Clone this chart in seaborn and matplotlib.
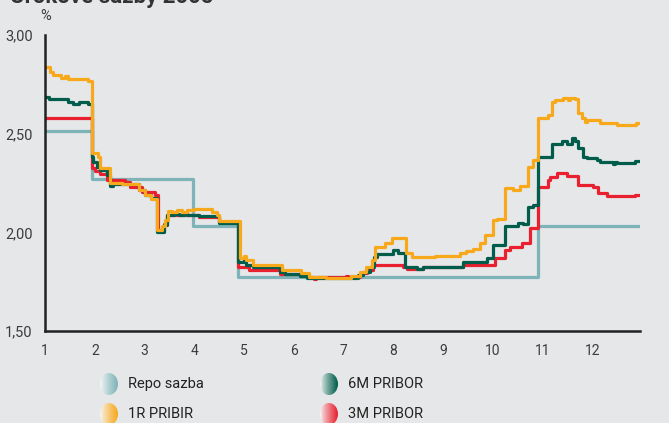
# ============================================================
# Úrokové sazby 2005 – repo sazba a PRIBOR
# ============================================================
import numpy as np
import matplotlib
matplotlib.use("Agg")
import matplotlib.pyplot as plt
from matplotlib.patches import Ellipse
import seaborn as sns

# ------------------------------------------------------------
# DATA (mesic 1..13, hodnoty v %)
# ------------------------------------------------------------
repo_x = [1.00, 1.94, 3.98, 4.88, 10.91, 12.95]
repo_y = [2.515, 2.268, 2.032, 1.775, 2.032, 2.032]

pribor3m_x = [1.00, 1.94, 2.00, 2.10, 2.24, 2.60, 2.71, 2.95, 3.20, 3.26, 3.38, 3.45,
              3.70, 4.10, 4.50, 4.88, 5.10, 5.72, 6.26, 6.40, 6.45, 7.05, 7.08, 7.33,
              7.47, 7.59, 8.19, 8.27, 8.60, 9.40, 10.04, 10.24, 10.34, 10.58, 10.75,
              10.91, 11.10, 11.14, 11.28, 11.48, 11.70, 12.00, 12.10, 12.29, 12.85, 12.95]
pribor3m_y = [2.578, 2.325, 2.310, 2.294, 2.265, 2.257, 2.230, 2.206, 2.190, 2.010, 2.040, 2.090,
              2.088, 2.080, 2.054, 1.826, 1.810, 1.790, 1.775, 1.762, 1.772, 1.780, 1.775, 1.795,
              1.810, 1.834, 1.822, 1.812, 1.826, 1.834, 1.868, 1.910, 1.927, 1.944, 2.020,
              2.231, 2.265, 2.282, 2.300, 2.285, 2.240, 2.231, 2.198, 2.184, 2.190, 2.190]

pribor6m_x = [1.00, 1.08, 1.46, 1.56, 1.68, 1.86, 1.94, 1.97, 2.04, 2.10, 2.24, 2.30,
              2.36, 2.88, 3.00, 3.12, 3.24, 3.40, 3.45, 3.60, 3.70, 3.80, 3.85, 4.00,
              4.10, 4.50, 4.88, 5.00, 5.04, 5.18, 5.72, 5.82, 6.12, 6.26, 6.66, 7.29,
              7.39, 7.53, 7.60, 7.67, 7.99, 8.09, 8.23, 8.47, 8.60, 9.40, 9.88, 10.00,
              10.24, 10.50, 10.60, 10.70, 10.80, 10.91, 11.18, 11.38, 11.48, 11.58, 11.64,
              11.70, 11.80, 11.88, 12.08, 12.15, 12.40, 12.44, 12.49, 12.85, 12.95]
pribor6m_y = [2.684, 2.674, 2.662, 2.649, 2.662, 2.649, 2.383, 2.358, 2.333, 2.316, 2.290, 2.235,
              2.245, 2.215, 2.190, 2.175, 2.000, 2.035, 2.090, 2.095, 2.090, 2.100, 2.090, 2.088,
              2.083, 2.045, 1.848, 1.860, 1.834, 1.822, 1.800, 1.790, 1.778, 1.770, 1.767, 1.783,
              1.800, 1.826, 1.877, 1.890, 1.910, 1.894, 1.826, 1.814, 1.826, 1.850, 1.868, 1.935,
              2.030, 2.046, 2.040, 2.130, 2.138, 2.380, 2.450, 2.463, 2.450, 2.476, 2.463,
              2.426, 2.383, 2.378, 2.366, 2.358, 2.345, 2.358, 2.350, 2.360, 2.360]

pribor1r_x = [1.00, 1.10, 1.17, 1.32, 1.40, 1.46, 1.86, 1.94, 2.06, 2.10, 2.30, 2.55,
              2.88, 3.00, 3.12, 3.24, 3.34, 3.41, 3.47, 3.55, 3.65, 3.75, 3.85, 4.00,
              4.35, 4.45, 4.50, 4.92, 5.00, 5.04, 5.18, 5.75, 6.15, 6.30, 6.65, 7.15,
              7.33, 7.45, 7.57, 7.63, 7.83, 7.97, 8.26, 8.37, 8.83, 9.33, 9.45, 9.60,
              9.73, 9.84, 10.00, 10.08, 10.24, 10.40, 10.54, 10.70, 10.80, 10.91, 11.10,
              11.18, 11.24, 11.40, 11.50, 11.55, 11.64, 11.70, 11.78, 11.84, 11.88, 12.15,
              12.49, 12.87, 12.95]
pribor1r_y = [2.836, 2.814, 2.797, 2.780, 2.790, 2.777, 2.765, 2.400, 2.383, 2.326, 2.250, 2.243,
              2.215, 2.190, 2.170, 2.010, 2.030, 2.060, 2.110, 2.105, 2.115, 2.105, 2.115, 2.120,
              2.105, 2.090, 2.057, 1.868, 1.880, 1.860, 1.834, 1.810, 1.795, 1.775, 1.767, 1.780,
              1.800, 1.826, 1.860, 1.927, 1.945, 1.970, 1.895, 1.873, 1.880, 1.894, 1.905, 1.915,
              1.944, 1.987, 2.062, 2.070, 2.223, 2.214, 2.235, 2.333, 2.366, 2.578, 2.595,
              2.660, 2.670, 2.680, 2.672, 2.682, 2.675, 2.603, 2.578, 2.560, 2.569, 2.555,
              2.544, 2.555, 2.555]

mesice = list(range(1, 13))
y_ticks = [1.50, 2.00, 2.50, 3.00]

# barvy
c_repo = "#7db3b9"
c_3m = "#e8202f"
c_6m = "#005c4b"
c_1r = "#f7a81b"
c_bg = "#e6e7e8"
c_text = "#3c3c3c"

# ------------------------------------------------------------
# NASTAVENI
# ------------------------------------------------------------
sns.set_theme(style="white")
plt.rcParams["font.family"] = ["Liberation Sans Narrow", "Roboto", "DejaVu Sans"]
plt.rcParams["text.color"] = c_text
plt.rcParams["xtick.color"] = c_text
plt.rcParams["ytick.color"] = c_text

fig = plt.figure(figsize=(6.69, 4.23), dpi=100, facecolor=c_bg)
ax = fig.add_axes([45 / 669, 1 - 331 / 423, 595 / 669, 296 / 423], facecolor=c_bg)

# ------------------------------------------------------------
# GRAF
# ------------------------------------------------------------
lw = 2.3
sns.lineplot(x=repo_x, y=repo_y, drawstyle="steps-post", color=c_repo, linewidth=lw, ax=ax)
sns.lineplot(x=pribor3m_x, y=pribor3m_y, drawstyle="steps-post", color=c_3m, linewidth=lw, ax=ax)
sns.lineplot(x=pribor6m_x, y=pribor6m_y, drawstyle="steps-post", color=c_6m, linewidth=lw, ax=ax)
sns.lineplot(x=pribor1r_x, y=pribor1r_y, drawstyle="steps-post", color=c_1r, linewidth=lw, ax=ax)

ax.set_xlim(1, 12.95)
ax.set_ylim(1.5, 3.0)
ax.set_xticks(mesice)
ax.set_xticklabels([str(m) for m in mesice], fontsize=10)
ax.set_yticks(y_ticks)
ax.set_yticklabels([f"{v:.2f}".replace(".", ",") for v in y_ticks], fontsize=10.5)
ax.tick_params(axis="both", direction="in", length=8, width=1.8, color="#222222")
ax.tick_params(axis="x", pad=9)
ax.tick_params(axis="y", pad=9)
for side in ["top", "right"]:
    ax.spines[side].set_visible(False)
for side in ["left", "bottom"]:
    ax.spines[side].set_linewidth(1.8)
    ax.spines[side].set_color("#222222")
ax.set_xlabel("")
ax.set_ylabel("")

fig.text(46 / 669, 1 - 16 / 423, "%", ha="center", va="center", fontsize=10.5, color=c_text)
fig.text(10 / 669, 1 - 3 / 423, "Úrokové sazby 2005", ha="left", va="baseline",
         fontsize=16, fontweight="bold", color="#333333")

# ------------------------------------------------------------
# LEGENDA (elipsy s prechodem barvy)
# ------------------------------------------------------------
lax = fig.add_axes([0, 0, 1, 1], facecolor="none")
lax.set_xlim(0, 669)
lax.set_ylim(423, 0)
lax.axis("off")

legenda = [("Repo sazba", c_repo, 109, 384),
           ("6M PRIBOR", c_6m, 329, 384),
           ("1R PRIBIR", c_1r, 109, 414),
           ("3M PRIBOR", c_3m, 329, 414)]
for nazev, barva, cx, cy in legenda:
    rgb = np.array(matplotlib.colors.to_rgb(barva))
    t = np.linspace(0, 1, 40) ** 0.8
    grad = (1 - t)[:, None] * np.array([1.0, 1.0, 1.0]) * 0.97 + t[:, None] * rgb
    img = np.tile(grad[None, :, :], (40, 1, 1))
    im = lax.imshow(img, extent=(cx - 9, cx + 9, cy + 11, cy - 11), aspect="auto", zorder=2)
    el = Ellipse((cx, cy), 18, 22, transform=lax.transData, facecolor="none", edgecolor="none")
    lax.add_patch(el)
    im.set_clip_path(el)
    lax.text(cx + 19, cy, nazev, ha="left", va="center", fontsize=10.5, color="#222222")
lax.set_xlim(0, 669)
lax.set_ylim(423, 0)

plt.savefig("out.png", dpi=100, facecolor=c_bg)
